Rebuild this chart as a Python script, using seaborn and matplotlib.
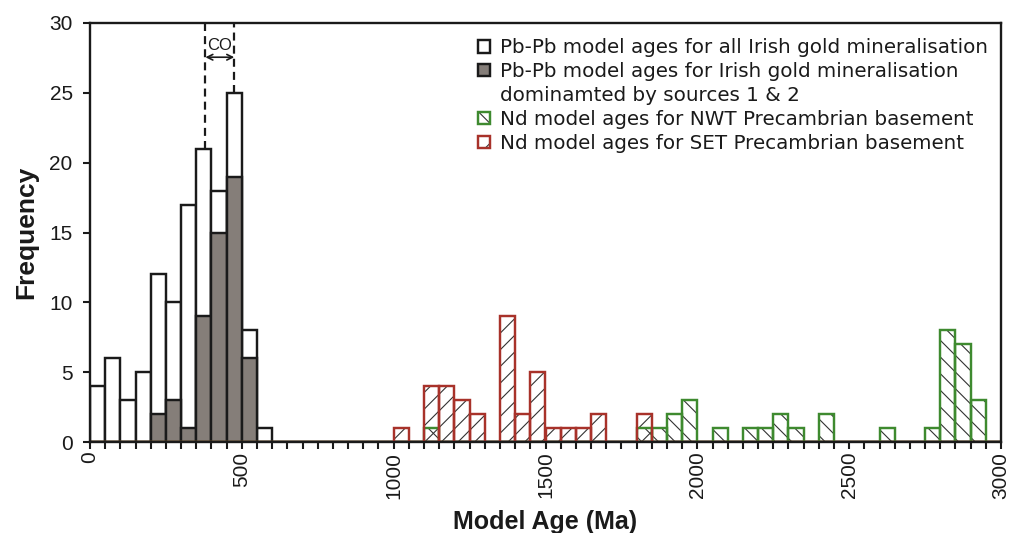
import numpy as np
import pandas as pd
import matplotlib
matplotlib.use("Agg")
import matplotlib.pyplot as plt
import seaborn as sns
from matplotlib.patches import Patch
from matplotlib.ticker import MultipleLocator

# ---------------- data (bin left edges in Ma, counts) ----------------
bin_width = 50
all_left = [0, 50, 100, 150, 200, 250, 300, 350, 400, 450, 500, 550]
all_counts = [4, 6, 3, 5, 12, 10, 17, 21, 18, 25, 8, 1]

grey_left = [200, 250, 300, 350, 400, 450, 500]
grey_counts = [2, 3, 1, 9, 15, 19, 6]

set_left = [1000, 1100, 1150, 1200, 1250, 1350, 1400, 1450, 1500, 1550, 1600, 1650, 1800]
set_counts = [1, 4, 4, 3, 2, 9, 2, 5, 1, 1, 1, 2, 2]

nwt_left = [1100, 1800, 1850, 1900, 1950, 2050, 2150, 2200, 2250, 2300, 2400, 2600,
            2750, 2800, 2850, 2900]
nwt_counts = [1, 1, 1, 2, 3, 1, 1, 1, 2, 1, 2, 1, 1, 8, 7, 3]

co_bounds = [380, 475]          # Caledonian orogeny window (dashed lines)
legend_labels = [
    "Pb-Pb model ages for all Irish gold mineralisation",
    "Pb-Pb model ages for Irish gold mineralisation",
    "dominamted by sources 1 & 2",
    "Nd model ages for NWT Precambrian basement",
    "Nd model ages for SET Precambrian basement",
]
x_max, y_max = 3000, 30

# ---------------- style ----------------
sns.set_theme(style="white")
plt.rcParams["font.family"] = ["Liberation Sans", "DejaVu Sans"]
plt.rcParams["hatch.linewidth"] = 0.8

ink = "#1a1a1a"
hatch_ink = "#333333"
grey = "#857e79"
green = "#3e8a2f"
red = "#a8322a"
lw = 1.75

fig = plt.figure(figsize=(10.09, 5.33), dpi=100)
ax = fig.add_axes([90 / 1009, 91 / 533, 911 / 1009, 419 / 533])
edges = [float(e) for e in np.arange(0, x_max + 1, bin_width)]


def hist(left, counts, **kw):
    df = pd.DataFrame({"age": np.asarray(left, dtype=float) + bin_width / 2,
                       "n": np.asarray(counts, dtype=float)})
    sns.histplot(data=df, x="age", weights="n", bins=edges,
                 ax=ax, stat="count", alpha=1, **kw)


hist(all_left, all_counts, facecolor="white", edgecolor=ink, linewidth=lw)
hist(grey_left, grey_counts, facecolor=grey, edgecolor=ink, linewidth=lw)
hist(nwt_left, nwt_counts, facecolor="none", edgecolor=hatch_ink, linewidth=0, hatch="\\\\")
hist(set_left, set_counts, facecolor="none", edgecolor=hatch_ink, linewidth=0, hatch="//")
hist(nwt_left, nwt_counts, facecolor="none", edgecolor=green, linewidth=lw)
hist(set_left, set_counts, facecolor="none", edgecolor=red, linewidth=lw)

# CO dashed lines from top of bars to top of axes
co_base = [all_counts[all_left.index(int(a // bin_width * bin_width))] for a in co_bounds]
ax.vlines(co_bounds, co_base, y_max, colors=ink, linewidth=1.6, linestyles=(0, (3.6, 2.3)))
ax.annotate("", xy=(co_bounds[0], 27.55), xytext=(co_bounds[1], 27.55),
            arrowprops=dict(arrowstyle="<->", lw=1.2, color=ink, shrinkA=0, shrinkB=0,
                            mutation_scale=10))
ax.text(np.mean(co_bounds), 28.4, "CO", ha="center", va="center", fontsize=12, color=ink)

# axes
ax.set_xlim(0, x_max)
ax.set_ylim(0, y_max)
ax.xaxis.set_major_locator(MultipleLocator(500))
ax.xaxis.set_minor_locator(MultipleLocator(50))
ax.yaxis.set_major_locator(MultipleLocator(5))
ax.tick_params(axis="both", which="both", direction="out", length=5, width=1.5,
               color=ink, labelsize=15, labelcolor=ink)
ax.tick_params(axis="x", which="both", bottom=True, labelrotation=90, pad=2)
ax.tick_params(axis="y", which="both", left=True, pad=7.5)
for s in ax.spines.values():
    s.set_linewidth(1.7)
    s.set_color(ink)

ax.set_xlabel("Model Age (Ma)", fontsize=18, fontweight="bold", labelpad=8, color=ink)
ax.set_ylabel("Frequency", fontsize=19, fontweight="bold", labelpad=8, color=ink)

# legend
h1 = Patch(facecolor="white", edgecolor=ink, linewidth=lw)
h2 = Patch(facecolor=grey, edgecolor=ink, linewidth=lw)
h2b = Patch(facecolor="none", edgecolor="none", linewidth=0)
h3 = (Patch(facecolor="none", edgecolor=hatch_ink, linewidth=0, hatch="\\"),
      Patch(facecolor="none", edgecolor=green, linewidth=lw))
h4 = (Patch(facecolor="none", edgecolor=hatch_ink, linewidth=0, hatch="/"),
      Patch(facecolor="none", edgecolor=red, linewidth=lw))
leg = ax.legend([h1, h2, h2b, h3, h4], legend_labels, loc="upper right",
                bbox_to_anchor=(0.9945, 0.983), frameon=False,
                prop={"family": "DejaVu Sans", "size": 14.3},
                handlelength=0.62, handleheight=0.62, handletextpad=0.5,
                labelspacing=0.25, borderaxespad=0, borderpad=0.4)
for t in leg.get_texts():
    t.set_color(ink)

fig.savefig("out.png", dpi=100)
